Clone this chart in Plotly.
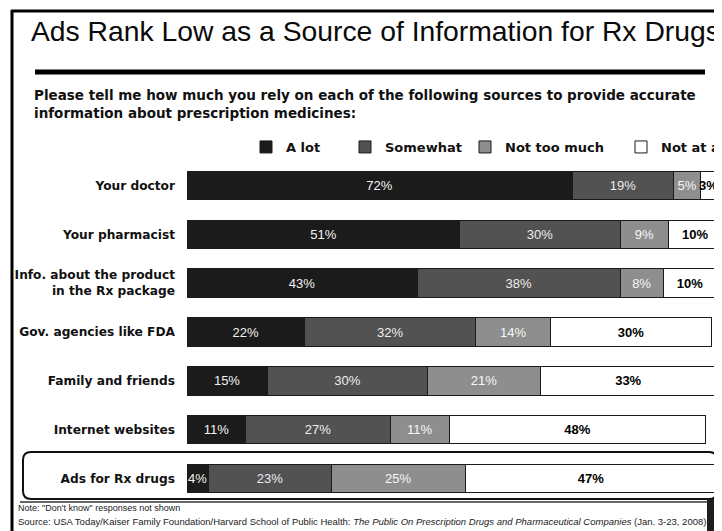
import plotly.graph_objects as go

categories = ["Your doctor", "Your pharmacist", "Info. about the product<br>in the Rx package",
              "Gov. agencies like FDA", "Family and friends", "Internet websites", "Ads for Rx drugs"]
series_names = ["A lot", "Somewhat", "Not too much", "Not at all"]
a_lot = [72, 51, 43, 22, 15, 11, 4]
somewhat = [19, 30, 38, 32, 30, 27, 23]
not_too_much = [5, 9, 8, 14, 21, 11, 25]
not_at_all = [3, 10, 10, 30, 33, 48, 47]

title_text = "Ads Rank Low as a Source of Information for Rx Drugs"
subtitle_text = ("Please tell me how much you rely on each of the following sources to provide accurate<br>"
                 "information about prescription medicines:")
note_text = "Note: \"Don't know\" responses not shown"
source_text = ("Source: USA Today/Kaiser Family Foundation/Harvard School of Public Health: "
               "<i>The Public On Prescription Drugs and Pharmaceutical Companies</i> (Jan. 3-23, 2008)")

W, H = 722, 531
OFF = 8  # page body margin: the figure is shown 8px right/down in the window
ML, MR, MT, MB = 179, 8, 153, 36
PW = W - ML - MR
PH = H - MT - MB


def px_x(sx):
    return (sx - OFF - ML) / PW


def px_y(sy):
    return (H - MB - (sy - OFF)) / PH


WIDE = "DejaVu Sans, Liberation Sans, Arial"
NARROW = "Liberation Sans Narrow, Liberation Sans, Arial"
fills = ["#1b1b1b", "#525252", "#8e8e8e", "#ffffff"]
text_colors = ["#f2f2f2", "#ececec", "#f7f7f7", "#000000"]
legend_ids = ["legend", "legend2", "legend3", "legend4"]
values = [a_lot, somewhat, not_too_much, not_at_all]

fig = go.Figure()
for name, vals, fc, tc, lid in zip(series_names, values, fills, text_colors, legend_ids):
    fig.add_trace(go.Bar(
        y=categories, x=vals, name=name, orientation="h",
        marker=dict(color=fc, line=dict(color="#1a1a1a", width=1)),
        width=0.58,
        texttemplate="%{x}%",
        textposition="inside", insidetextanchor="middle",
        constraintext="none", textangle=0,
        textfont=dict(color=tc, size=13, family=NARROW,
                      weight="bold" if name == "Not at all" else "normal"),
        cliponaxis=False,
        legend=lid,
        hoverinfo="skip",
    ))

fig.update_layout(
    width=W, height=H,
    margin=dict(l=ML, r=MR, t=MT, b=MB, pad=0, autoexpand=False),
    barmode="stack",
    paper_bgcolor="white", plot_bgcolor="white",
    font=dict(family="Liberation Sans, Arial", color="#111111"),
    showlegend=True,
    uniformtext=dict(mode=False),
)
fig.update_xaxes(range=[0, 100], visible=False, fixedrange=True)
fig.update_yaxes(categoryorder="array", categoryarray=categories[::-1], range=[-0.5, 6.5],
                 showgrid=False, showline=False, zeroline=False, ticks="", automargin=False,
                 tickfont=dict(size=12.2, weight="bold", color="#111111", family=WIDE),
                 ticklabelstandoff=11)

legend_x_px = [246, 345, 465, 621]
leg_common = dict(orientation="h", yanchor="middle", y=px_y(147), xanchor="left",
                  font=dict(size=13, weight="bold", color="#111111", family=WIDE),
                  bgcolor="rgba(0,0,0,0)", itemwidth=30, tracegroupgap=0)
for lid, lx in zip(legend_ids, legend_x_px):
    fig.update_layout({lid: dict(x=px_x(lx), **leg_common)})

# title / subtitle
fig.add_annotation(text=title_text, xref="paper", yref="paper", x=px_x(29), y=px_y(31),
                   xanchor="left", yanchor="middle", showarrow=False,
                   font=dict(size=28.3, color="#0a0a0a", family="Liberation Sans, Arial"))
fig.add_annotation(text="<b>" + subtitle_text.replace("<br>", "</b><br><b>") + "</b>",
                   xref="paper", yref="paper", x=px_x(32), y=px_y(104),
                   xanchor="left", yanchor="middle", align="left", showarrow=False,
                   font=dict(size=13.5, color="#111111", family=WIDE))
fig.add_annotation(text=note_text, xref="paper", yref="paper", x=px_x(16), y=px_y(508),
                   xanchor="left", yanchor="middle", showarrow=False,
                   font=dict(size=9, color="#222222", family=NARROW))
fig.add_annotation(text=source_text, xref="paper", yref="paper", x=px_x(16), y=px_y(521),
                   xanchor="left", yanchor="middle", showarrow=False,
                   font=dict(size=9.5, color="#222222", family=NARROW))

# decorations
fig.add_shape(type="line", xref="paper", yref="paper", x0=px_x(35), x1=px_x(705),
              y0=px_y(72), y1=px_y(72), line=dict(color="#000000", width=5))
fig.add_shape(type="line", xref="paper", yref="paper", x0=px_x(12), x1=px_x(12),
              y0=px_y(10), y1=px_y(531), line=dict(color="#000000", width=3))
fig.add_shape(type="line", xref="paper", yref="paper", x0=px_x(11), x1=px_x(722),
              y0=px_y(11), y1=px_y(11), line=dict(color="#000000", width=3))

# rounded highlight box around the last row
bx0, bx1, by0, by1, r = 23, 717, 452, 499, 8


def P(x, y):
    return f"{px_x(x):.5f},{px_y(y):.5f}"


path = (f"M {P(bx0 + r, by0)} L {P(bx1 - r, by0)} Q {P(bx1, by0)} {P(bx1, by0 + r)} "
        f"L {P(bx1, by1 - r)} Q {P(bx1, by1)} {P(bx1 - r, by1)} "
        f"L {P(bx0 + r, by1)} Q {P(bx0, by1)} {P(bx0, by1 - r)} "
        f"L {P(bx0, by0 + r)} Q {P(bx0, by0)} {P(bx0 + r, by0)} Z")
fig.add_shape(type="path", path=path, xref="paper", yref="paper",
              line=dict(color="#111111", width=2), layer="below")
fig.add_shape(type="line", xref="paper", yref="paper", x0=px_x(20), x1=px_x(722),
              y0=px_y(502), y1=px_y(502), line=dict(color="#333333", width=1.5))
fig.add_shape(type="rect", xref="paper", yref="paper", x0=px_x(707), x1=px_x(722),
              y0=px_y(499), y1=px_y(531), fillcolor="#1e1e1e", line=dict(width=0))

fig.write_html("out.html")
